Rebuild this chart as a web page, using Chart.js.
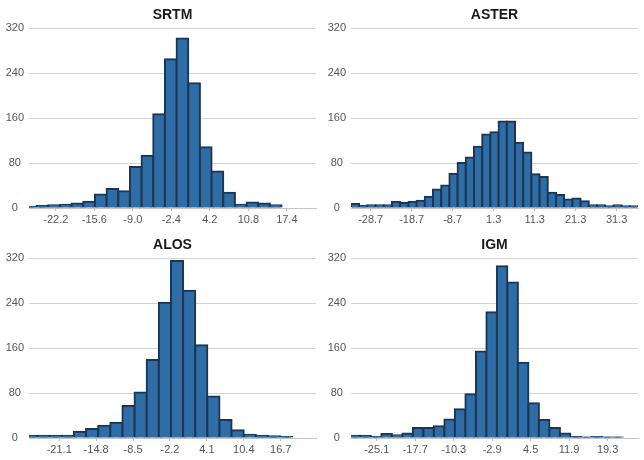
<!DOCTYPE html>
<html>
<head>
<meta charset="utf-8">
<script src="https://cdn.jsdelivr.net/npm/chart.js@4.4.1/dist/chart.umd.min.js"></script>
<style>
  body { margin: 0; background: #fff; }
  #grid { display: grid; grid-template-columns: 322px 322px; grid-template-rows: 230px 230px; width: 644px; height: 460px; }
  canvas { display: block; }
</style>
</head>
<body>
<div id="grid">
  <canvas id="srtm" width="322" height="230"></canvas>
  <canvas id="aster" width="322" height="230"></canvas>
  <canvas id="alos" width="322" height="230"></canvas>
  <canvas id="igm" width="322" height="230"></canvas>
</div>
<script>
// bin centres and counts
const srtmBins = [-26.5, -24.5, -22.5, -20.5, -18.5, -16.5, -14.5, -12.5, -10.5, -8.5, -6.5, -4.5,
                  -2.5, -0.5, 1.5, 3.5, 5.5, 7.5, 9.5, 11.5, 13.5, 15.5];
const srtmCounts = [2, 4, 5, 6, 8, 11, 24, 34, 30, 73, 93, 167, 265, 302, 222, 108, 65, 27, 6, 10, 8, 5];
const srtmTicks = [-22.2, -15.6, -9.0, -2.4, 4.2, 10.8, 17.4];

const asterBins = [-32.5, -30.5, -28.5, -26.5, -24.5, -22.5, -20.5, -18.5, -16.5, -14.5, -12.5, -10.5,
                   -8.5, -6.5, -4.5, -2.5, -0.5, 1.5, 3.5, 5.5, 7.5, 9.5, 11.5, 13.5, 15.5, 17.5,
                   19.5, 21.5, 23.5, 25.5, 27.5, 29.5, 31.5, 33.5, 35.5];
const asterCounts = [7, 4, 5, 5, 5, 11, 9, 11, 13, 20, 33, 40, 61, 80, 90, 109, 131, 135, 154, 154,
                     116, 99, 60, 55, 27, 23, 15, 17, 12, 5, 5, 3, 5, 3, 3];
const asterTicks = [-28.7, -18.7, -8.7, 1.3, 11.3, 21.3, 31.3];

const alosBins = [-25.84, -23.77, -21.70, -19.63, -17.56, -15.49, -13.42, -11.35, -9.28, -7.21, -5.14,
                  -3.07, -1.00, 1.07, 3.14, 5.21, 7.28, 9.35, 11.42, 13.49, 15.56, 17.63];
const alosCounts = [4, 4, 4, 4, 11, 16, 22, 27, 57, 81, 139, 241, 315, 262, 165, 74, 32, 14, 6, 4, 3, 2];
const alosTicks = [-21.1, -14.8, -8.5, -2.2, 4.1, 10.4, 16.7];

const igmBins = [-29.26, -27.24, -25.22, -23.20, -21.18, -19.16, -17.14, -15.12, -13.10, -11.08, -9.06,
                 -7.04, -5.02, -3.00, -0.98, 1.04, 3.06, 5.08, 7.10, 9.12, 11.14, 13.16, 15.18, 17.20,
                 19.22, 21.24];
const igmCounts = [4, 4, 2, 7, 5, 8, 18, 18, 21, 33, 51, 78, 154, 224, 306, 277, 134, 62, 32, 18, 8, 2,
                   1, 2, 1, 1];
const igmTicks = [-25.1, -17.7, -10.3, -2.9, 4.5, 11.9, 19.3];

const yTicks = [0, 80, 160, 240, 320];

Chart.defaults.font.family = '"Liberation Sans", Arial, sans-serif';
Chart.defaults.font.size = 11;
Chart.defaults.color = '#555';

function histogram(id, title, bins, counts, ticks, xMin, xMax) {
  new Chart(document.getElementById(id), {
    type: 'bar',
    data: {
      datasets: [{
        data: bins.map((b, i) => ({ x: b, y: counts[i] })),
        backgroundColor: '#2f6da6',
        borderColor: '#1b3552',
        borderWidth: 2,
        inflateAmount: 1,
        barPercentage: 1,
        categoryPercentage: 1
      }]
    },
    options: {
      responsive: false,
      animation: false,
      layout: { padding: { left: 0, right: 6, top: 0, bottom: 0 } },
      plugins: {
        legend: { display: false },
        tooltip: { enabled: false },
        title: {
          display: true,
          text: title,
          fullSize: false,
          color: '#1a1a1a',
          font: { size: 14, weight: 'bold' },
          padding: { top: 7, bottom: 4.5 }
        }
      },
      scales: {
        x: {
          type: 'linear',
          min: xMin,
          max: xMax,
          offset: false,
          afterBuildTicks: s => { s.ticks = ticks.map(v => ({ value: v })); },
          afterFit: s => { s.height = 22; },
          ticks: { maxRotation: 0, autoSkip: false, padding: 2, callback: v => Number(v).toFixed(1) },
          grid: { drawOnChartArea: false, drawTicks: true, tickLength: 3, offset: false, color: '#b8b8b8' },
          border: { display: true, color: '#c4c4c4' }
        },
        y: {
          min: 0,
          max: 320,
          afterBuildTicks: s => { s.ticks = yTicks.map(v => ({ value: v })); },
          afterFit: s => { s.width = 29; },
          ticks: { crossAlign: 'center', padding: 5 },
          grid: { color: '#d2d2d2', drawTicks: false },
          border: { display: false }
        }
      }
    }
  });
}

histogram('srtm', 'SRTM', srtmBins, srtmCounts, srtmTicks, -26.8, 22.4);
histogram('aster', 'ASTER', asterBins, asterCounts, asterTicks, -33.5, 36.5);
histogram('alos', 'ALOS', alosBins, alosCounts, alosTicks, -26.26, 22.72);
histogram('igm', 'IGM', igmBins, igmCounts, igmTicks, -30.05, 25.15);
</script>
</body>
</html>
